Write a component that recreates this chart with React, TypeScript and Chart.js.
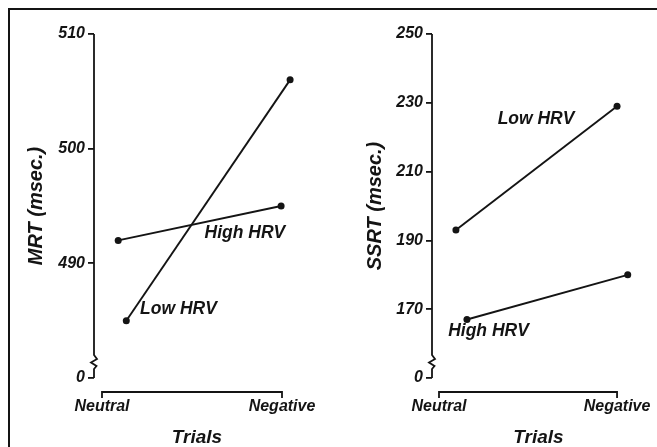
import React, { useEffect, useRef } from "react";
import { Chart, registerables } from "chart.js";

Chart.register(...registerables);

// ---- Data ----
const trialCategories = ["Neutral", "Negative"];

// Left panel: MRT (msec.)
const mrtHighHRV = [492.0, 495.0];
const mrtLowHRV = [485.0, 506.0];
const mrtHighX = [0.09, 0.995];
const mrtLowX = [0.135, 1.045];
const mrtTickValues = [480, 490, 500, 510];
const mrtTickLabels = ["0", "490", "500", "510"];

// Right panel: SSRT (msec.)
const ssrtLowHRV = [193.0, 229.0];
const ssrtHighHRV = [167.0, 180.0];
const ssrtLowX = [0.095, 1.0];
const ssrtHighX = [0.157, 1.06];
const ssrtTickValues = [150, 170, 190, 210, 230, 250];
const ssrtTickLabels = ["0", "170", "190", "210", "230", "250"];

const FAMILY = '"Liberation Sans", Arial, Helvetica, sans-serif';
const INK = "#141414";

type Note = { text: string; x: number; y: number };

type PanelProps = {
  yTitle: string;
  series: { x: number[]; y: number[] }[];
  tickValues: number[];
  tickLabels: string[];
  notes: Note[];
  canvasLeft: number;
  canvasWidth: number;
  axisX: number;
  areaRight: number;
  xMin: number;
  xMax: number;
  yTitlePad: number;
};

const CANVAS_TOP = 10;
const CANVAS_H = 437;
const AREA_TOP = 34;
const AREA_BOTTOM = 378;

function Panel(p: PanelProps) {
  const ref = useRef<HTMLCanvasElement | null>(null);
  useEffect(() => {
    if (!ref.current) return;
    const yMin = p.tickValues[0];
    const yMax = p.tickValues[p.tickValues.length - 1];

    const decor = {
      id: "decor",
      afterDraw(chart: any) {
        const ctx = chart.ctx;
        const xs = chart.scales.x;
        const ys = chart.scales.y;
        const area = chart.chartArea;
        ctx.save();
        ctx.strokeStyle = INK;
        ctx.lineWidth = 1.8;
        ctx.lineJoin = "miter";
        // y axis line with break
        const ax = area.left;
        const b = area.bottom;
        ctx.beginPath();
        ctx.moveTo(ax, area.top);
        ctx.lineTo(ax, b - 23);
        ctx.lineTo(ax + 3, b - 19);
        ctx.lineTo(ax - 3, b - 15.5);
        ctx.lineTo(ax + 2.5, b - 12);
        ctx.lineTo(ax, b - 9);
        ctx.lineTo(ax, b);
        ctx.stroke();
        // x bracket
        const x0 = xs.getPixelForValue(0);
        const x1 = xs.getPixelForValue(1);
        const by = b + 14;
        ctx.beginPath();
        ctx.moveTo(x0, by + 6);
        ctx.lineTo(x0, by);
        ctx.lineTo(x1, by);
        ctx.lineTo(x1, by + 6);
        ctx.stroke();
        // annotations
        ctx.fillStyle = INK;
        ctx.font = `italic bold 17.5px ${FAMILY}`;
        ctx.textAlign = "center";
        ctx.textBaseline = "middle";
        p.notes.forEach((n) => {
          ctx.fillText(n.text, xs.getPixelForValue(n.x), ys.getPixelForValue(n.y));
        });
        ctx.restore();
      },
    };

    const chart = new Chart(ref.current, {
      type: "line",
      data: {
        datasets: p.series.map((s) => ({
          data: s.x.map((x, i) => ({ x, y: s.y[i] })),
          borderColor: INK,
          borderWidth: 1.9,
          pointRadius: 3.5,
          pointBackgroundColor: INK,
          pointBorderWidth: 0,
          fill: false,
          clip: false as any,
        })),
      },
      options: {
        animation: false,
        responsive: false,
        devicePixelRatio: 1,
        layout: {
          padding: {
            top: AREA_TOP - CANVAS_TOP,
            right: p.canvasLeft + p.canvasWidth - p.areaRight,
            left: 0,
            bottom: 0,
          },
        },
        plugins: {
          legend: { display: false },
          tooltip: { enabled: false },
        },
        scales: {
          x: {
            type: "linear",
            min: p.xMin,
            max: p.xMax,
            afterBuildTicks: (s: any) => {
              s.ticks = trialCategories.map((_, i) => ({ value: i }));
            },
            afterFit: (s: any) => {
              s.height = CANVAS_TOP + CANVAS_H - AREA_BOTTOM;
              s.paddingLeft = 0;
              s.paddingRight = 0;
              s.paddingTop = 0;
              s.paddingBottom = 0;
            },
            grid: { display: false, drawTicks: false, tickLength: 0 },
            border: { display: false },
            ticks: {
              autoSkip: false,
              maxRotation: 0,
              padding: 19,
              color: INK,
              font: { family: FAMILY, size: 16, style: "italic", weight: "bold" },
              callback: (v: any) => trialCategories[v] ?? "",
            },
            title: {
              display: true,
              text: "Trials",
              color: INK,
              padding: { top: 0, bottom: 0 },
              font: { family: FAMILY, size: 19, style: "italic", weight: "bold", lineHeight: 1 },
            },
          },
          y: {
            type: "linear",
            min: yMin,
            max: yMax,
            afterBuildTicks: (s: any) => {
              s.ticks = p.tickValues.map((v) => ({ value: v }));
            },
            afterFit: (s: any) => {
              s.width = p.axisX - p.canvasLeft;
              s.paddingLeft = 0;
              s.paddingRight = 0;
              s.paddingTop = 0;
              s.paddingBottom = 0;
            },
            grid: {
              display: true,
              drawOnChartArea: false,
              drawTicks: true,
              tickLength: 6,
              color: INK,
              lineWidth: 1.8,
            },
            border: { display: false },
            ticks: {
              padding: 3,
              color: INK,
              font: { family: FAMILY, size: 16, style: "italic", weight: "bold" },
              callback: (v: any) => {
                const idx = p.tickValues.indexOf(Number(v));
                return idx >= 0 ? p.tickLabels[idx] : "";
              },
            },
            title: {
              display: true,
              text: p.yTitle,
              color: INK,
              padding: { top: p.yTitlePad, bottom: 0 },
              font: { family: FAMILY, size: 20, style: "italic", weight: "bold", lineHeight: 1 },
            },
          },
        },
      },
      plugins: [decor],
    } as any);
    return () => chart.destroy();
  }, []);

  return (
    <canvas
      ref={ref}
      width={p.canvasWidth}
      height={CANVAS_H}
      style={{
        position: "absolute",
        left: p.canvasLeft,
        top: CANVAS_TOP,
        width: p.canvasWidth,
        height: CANVAS_H,
      }}
    />
  );
}

export default function App() {
  return (
    <div
      style={{
        position: "fixed",
        left: 0,
        top: 0,
        width: 657,
        height: 447,
        background: "#fff",
        overflow: "hidden",
      }}
    >
      <div
        style={{
          position: "absolute",
          left: 8,
          top: 8,
          width: 700,
          height: 500,
          borderTop: `2px solid ${INK}`,
          borderLeft: `2px solid ${INK}`,
          boxSizing: "border-box",
        }}
      />
      <Panel
        yTitle="MRT (msec.)"
        series={[
          { x: mrtHighX, y: mrtHighHRV },
          { x: mrtLowX, y: mrtLowHRV },
        ]}
        tickValues={mrtTickValues}
        tickLabels={mrtTickLabels}
        notes={[
          { text: "High HRV", x: 0.794, y: 492.6 },
          { text: "Low HRV", x: 0.425, y: 486.0 },
        ]}
        canvasLeft={12}
        canvasWidth={318}
        axisX={94}
        areaRight={300}
        xMin={-0.0444}
        xMax={1.1}
        yTitlePad={14}
      />
      <Panel
        yTitle="SSRT (msec.)"
        series={[
          { x: ssrtLowX, y: ssrtLowHRV },
          { x: ssrtHighX, y: ssrtHighHRV },
        ]}
        tickValues={ssrtTickValues}
        tickLabels={ssrtTickLabels}
        notes={[
          { text: "Low HRV", x: 0.545, y: 225.1 },
          { text: "High HRV", x: 0.278, y: 163.6 },
        ]}
        canvasLeft={335}
        canvasWidth={322}
        axisX={432}
        areaRight={645}
        xMin={-0.0393}
        xMax={1.157}
        yTitlePad={30}
      />
    </div>
  );
}
